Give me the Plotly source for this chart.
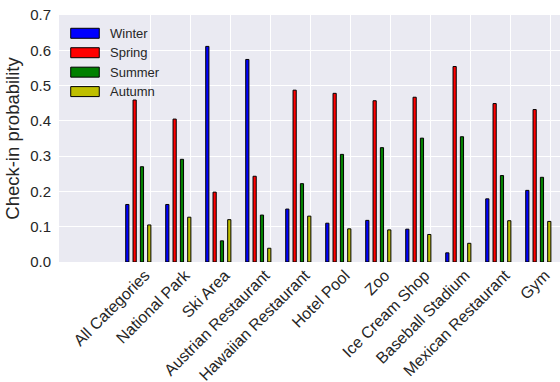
import numpy as np
import plotly.graph_objects as go

categories = ["All Categories", "National Park", "Ski Area", "Austrian Restaurant",
              "Hawaiian Restaurant", "Hotel Pool", "Zoo", "Ice Cream Shop",
              "Baseball Stadium", "Mexican Restaurant", "Gym"]
seasons = ["Winter", "Spring", "Summer", "Autumn"]

winter = [0.163, 0.163, 0.611, 0.574, 0.150, 0.110, 0.118, 0.093, 0.026, 0.179, 0.203]
spring = [0.459, 0.405, 0.198, 0.243, 0.487, 0.478, 0.457, 0.467, 0.554, 0.449, 0.432]
summer = [0.270, 0.291, 0.060, 0.133, 0.222, 0.305, 0.324, 0.351, 0.355, 0.245, 0.240]
autumn = [0.105, 0.127, 0.120, 0.039, 0.130, 0.094, 0.091, 0.078, 0.053, 0.117, 0.115]

series = [winter, spring, summer, autumn]
colors = ["#0000FF", "#FF0000", "#008000", "#BFBF00"]

FONT = "Liberation Sans, Arial, sans-serif"
TEXT = "#262626"

idx = np.arange(len(categories), dtype=float)
bar_w = 0.08
pitch = 0.183
first_center = -0.567

fig = go.Figure()
for j, (name, vals, col) in enumerate(zip(seasons, series, colors)):
    fig.add_trace(go.Bar(
        x=idx + first_center + pitch * j,
        y=vals,
        width=bar_w,
        name=name,
        showlegend=False,
        marker=dict(color=col, line=dict(color="#000000", width=1)),
    ))

# Legend drawn as wide colour patches with labels, top-left inside the axes
patch_x0, patch_x1, label_x = 0.0234, 0.0804, 0.0985
row_top, row_step, half_h = 0.926, 0.0787, 0.0202
shapes, annotations = [], []
for j, (name, col) in enumerate(zip(seasons, colors)):
    yc = row_top - j * row_step
    shapes.append(dict(type="rect", xref="paper", yref="paper",
                       x0=patch_x0, x1=patch_x1, y0=yc - half_h, y1=yc + half_h,
                       fillcolor=col, line=dict(color="#000000", width=1)))
    annotations.append(dict(xref="paper", yref="paper", x=label_x, y=yc,
                            xanchor="left", yanchor="middle", showarrow=False,
                            text=name, font=dict(size=13, color=TEXT)))

fig.update_layout(
    width=560, height=382,
    margin=dict(l=59, r=0, t=15, b=120, autoexpand=False),
    paper_bgcolor="white",
    plot_bgcolor="#EAEAF2",
    font=dict(family=FONT, color=TEXT, size=15),
    barmode="overlay",
    showlegend=False,
    shapes=shapes,
    annotations=annotations,
    xaxis=dict(
        range=[-2.275, 10.25],
        tickmode="array",
        tickvals=idx,
        ticktext=categories,
        tickangle=-45,
        tickfont=dict(size=16, color=TEXT),
        ticklabelstandoff=0,
        ticklabelshift=-5,
        automargin=False,
        showgrid=True, gridcolor="white", gridwidth=1.2,
        zeroline=False, showline=False, ticks="",
    ),
    yaxis=dict(
        range=[0, 0.7],
        dtick=0.1,
        tickformat=".1f",
        tickfont=dict(size=15, color=TEXT),
        automargin=False,
        showgrid=True, gridcolor="white", gridwidth=1.2,
        zeroline=False, showline=False, ticks="",
        ticklabelstandoff=7,
        title=dict(text="Check-in probability", font=dict(size=18.5, color=TEXT), standoff=5),
    ),
)

fig.write_html("out.html")
